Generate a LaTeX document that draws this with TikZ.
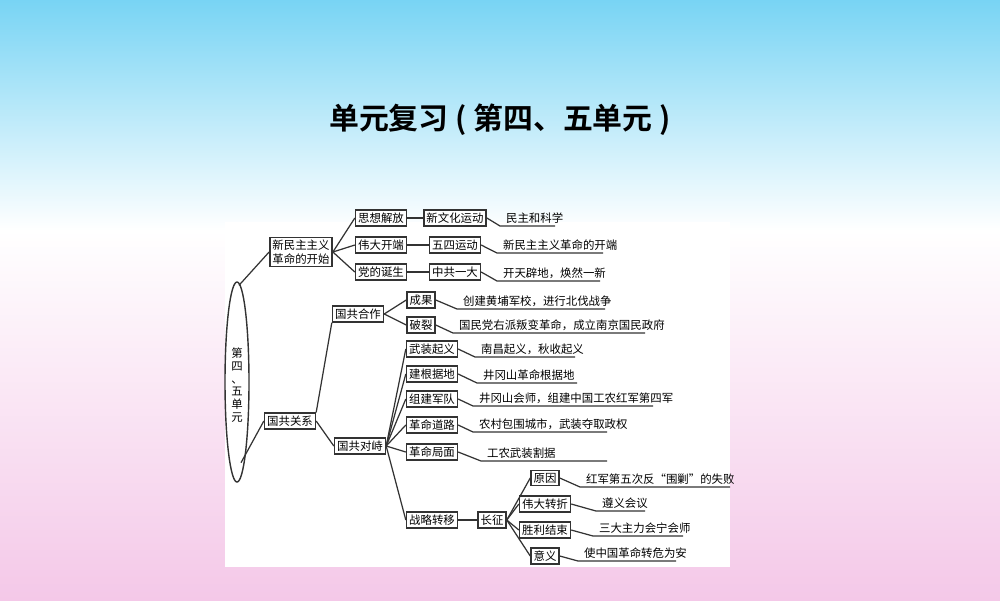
\documentclass[tikz,border=0pt]{standalone}
\usepackage{fontspec}
\setmainfont{Noto Sans CJK SC}
\newfontfamily\titlefont[BoldFont=* Bold]{Noto Sans CJK SC}
\usetikzlibrary{shapes.geometric,calc}
\definecolor{lnc}{HTML}{333333}
\definecolor{topc}{HTML}{78D4F4}
\definecolor{botc}{HTML}{F4C8E8}
\tikzset{
 bx/.style={draw=lnc,line width=0.8pt,fill=white,inner sep=1.5pt,font=\fontsize{6.5pt}{7.6pt}\selectfont,align=center},
 lf/.style={inner sep=1pt,anchor=south west,font=\fontsize{6.5pt}{7.6pt}\selectfont},
 cn/.style={draw=lnc,line width=0.7pt}
}
\newcommand{\leaf}[6]{%
 \coordinate (#2s) at (#3,#4);
 \coordinate (#2e) at (#5,#4);
 \node[lf] (#2) at ($(#2s)+(4,0)$) {#6};
 \draw[cn] (#1.east) -- (#2s) -- (#2e);}
\begin{document}
\begin{tikzpicture}[x=0.02cm,y=-0.02cm]
\shade[top color=topc, bottom color=white] (0,0) rectangle (1000,230);
\shade[top color=white, bottom color=botc] (0,230) rectangle (1000,600);
\useasboundingbox (0,0) rectangle (1000,600);
\node[font=\titlefont\bfseries\fontsize{17pt}{20pt}\selectfont] (title) at (500,120) {单元复习 ( 第四、五单元 )};
\fill[white] (225,222) rectangle (730,567);
% root
\node[draw=lnc,line width=0.8pt,ellipse,minimum width=24*0.02cm,minimum height=200*0.02cm,inner sep=0pt] (root) at (237,382) {};
\node[font=\fontsize{6.5pt}{7.2pt}\selectfont,align=center] (rootlbl) at (237,385) {第\\四\\、\\五\\单\\元};
% level 1
\node[bx] (xm) at (301,252) {新民主主义\\革命的开始};
\node[bx] (gg) at (290,421) {国共关系};
\draw[cn] (root.north) ++(2,4) coordinate (rt1) -- (xm.west);
\draw[cn] (root.south) ++(4,-20) coordinate (rb1) -- (gg.west);
% xm branch
\node[bx] (a1) at (381,218) {思想解放};
\node[bx] (a2) at (381,245) {伟大开端};
\node[bx] (a3) at (381,272) {党的诞生};
\node[bx] (b1) at (455,218) {新文化运动};
\node[bx] (b2) at (455,245) {五四运动};
\node[bx] (b3) at (455,272) {中共一大};
\foreach \i in {1,2,3}{\draw[cn] (xm.east) -- (a\i.west); \draw[cn] (a\i.east) -- (b\i.west);}
\leaf{b1}{c1}{500}{226}{555}{民主和科学}
\leaf{b2}{c2}{497}{253}{603}{新民主主义革命的开端}
\leaf{b3}{c3}{497}{281}{600}{开天辟地，焕然一新}
% cooperation
\node[bx] (hz) at (358,314) {国共合作};
\node[bx] (dz) at (360,446) {国共对峙};
\draw[cn] (gg.north east) -- (hz.south west);
\draw[cn] (gg.east) -- (dz.west);
\node[bx] (d1) at (421,300) {成果};
\node[bx] (d2) at (421,325) {破裂};
\draw[cn] (hz.east) -- (d1.west); \draw[cn] (hz.east) -- (d2.west);
\leaf{d1}{e1}{457}{309}{605}{创建黄埔军校，进行北伐战争}
\leaf{d2}{e2}{453}{333}{645}{国民党右派叛变革命，成立南京国民政府}
% confrontation
\node[bx] (f1) at (432,349) {武装起义};
\node[bx] (f2) at (432,374) {建根据地};
\node[bx] (f3) at (432,399) {组建军队};
\node[bx] (f4) at (432,425) {革命道路};
\node[bx] (f5) at (432,452) {革命局面};
\node[bx] (f6) at (432,520) {战略转移};
\foreach \i in {1,...,6}{\draw[cn] (dz.east) -- (f\i.west);}
\leaf{f1}{g1}{475}{357}{575}{南昌起义，秋收起义}
\leaf{f2}{g2}{477}{383}{577}{井冈山革命根据地}
\leaf{f3}{g3}{473}{406}{653}{井冈山会师，组建中国工农红军第四军}
\leaf{f4}{g4}{473}{432}{607}{农村包围城市，武装夺取政权}
\leaf{f5}{g5}{481}{461}{607}{工农武装割据}
% long march
\node[bx] (cz) at (492,520) {长征};
\draw[cn] (f6.east) -- (cz.west);
\node[bx] (h1) at (545,478) {原因};
\node[bx] (h2) at (545,504) {伟大转折};
\node[bx] (h3) at (545,530) {胜利结束};
\node[bx] (h4) at (545,556) {意义};
\foreach \i in {1,...,4}{\draw[cn] (cz.east) -- (h\i.west);}
\leaf{h1}{k1}{580}{487}{730}{红军第五次反“围剿”的失败}
\leaf{h2}{k2}{596}{511}{645}{遵义会议}
\leaf{h3}{k3}{593}{536}{683}{三大主力会宁会师}
\leaf{h4}{k4}{578}{561}{676}{使中国革命转危为安}
\end{tikzpicture}
\end{document}
